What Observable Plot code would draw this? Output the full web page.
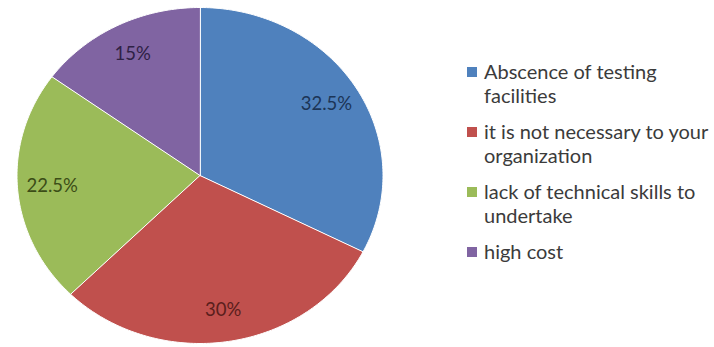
<!DOCTYPE html>
<html>
<head>
<meta charset="utf-8">
<script src="https://cdn.jsdelivr.net/npm/d3@7"></script>
<script src="https://cdn.jsdelivr.net/npm/@observablehq/plot@0.6"></script>
<style>
  html, body { margin: 0; padding: 0; background: #fff; }
  #chart { position: relative; width: 714px; height: 347px; font-family: Lato, "Open Sans", sans-serif; }
  #legend { position: absolute; left: 467px; top: 59px; width: 247px; }
  .item { display: flex; align-items: flex-start; margin-bottom: 12px; font-size: 20px; line-height: 24px; color: #3b3b3b; }
  .sw { width: 10px; height: 10px; margin-top: 8px; margin-right: 7px; flex: none; }
</style>
</head>
<body>
<div id="chart"></div>
<script>
const categories = ["Abscence of testing facilities", "it is not necessary to your organization", "lack of technical skills to undertake", "high cost"];
const values = [32.5, 30, 22.5, 15];
const valueLabels = ["32.5%", "30%", "22.5%", "15%"];
const colors = ["#4F81BD", "#C0504D", "#9BBB59", "#8064A2"];
const labelColors = ["#1c3557", "#5a1e1c", "#3b4d17", "#2e2145"];

const total = d3.sum(values);
const slices = [];
const labelPts = [];
let cum = 0;
values.forEach((v, i) => {
  const a0 = cum / total * 2 * Math.PI;
  const a1 = (cum + v) / total * 2 * Math.PI;
  const n = Math.max(4, Math.ceil((a1 - a0) / (Math.PI / 180)));
  slices.push({name: categories[i], x: 0, y: 0});
  for (let k = 0; k <= n; k++) {
    const a = a0 + (a1 - a0) * k / n;
    slices.push({name: categories[i], x: Math.sin(a), y: Math.cos(a)});
  }
  const am = (a0 + a1) / 2;
  labelPts.push({name: categories[i], label: valueLabels[i], color: labelColors[i], x: 0.81 * Math.sin(am), y: 0.81 * Math.cos(am)});
  cum += v;
});

const plot = Plot.plot({
  width: 714,
  height: 347,
  margin: 0,
  x: {domain: [-1, 1], range: [16.5, 382.5], axis: null},
  y: {domain: [-1, 1], range: [343, 7], axis: null},
  color: {domain: categories, range: colors},
  marks: [
    Plot.line(slices, {x: "x", y: "y", z: "name", fill: "name", stroke: "white", strokeWidth: 1, curve: "linear-closed"}),
    Plot.text(labelPts, {x: "x", y: "y", text: "label", fill: d => d.color, fontSize: 18.5, fontFamily: "Lato, sans-serif"})
  ]
});
plot.style.position = "absolute";
plot.style.left = "0";
plot.style.top = "0";
const chart = document.getElementById("chart");
chart.appendChild(plot);

const legend = document.createElement("div");
legend.id = "legend";
categories.forEach((c, i) => {
  const item = document.createElement("div");
  item.className = "item";
  const sw = document.createElement("div");
  sw.className = "sw";
  sw.style.background = colors[i];
  const t = document.createElement("div");
  t.textContent = c;
  item.appendChild(sw);
  item.appendChild(t);
  legend.appendChild(item);
});
chart.appendChild(legend);
</script>
</body>
</html>
